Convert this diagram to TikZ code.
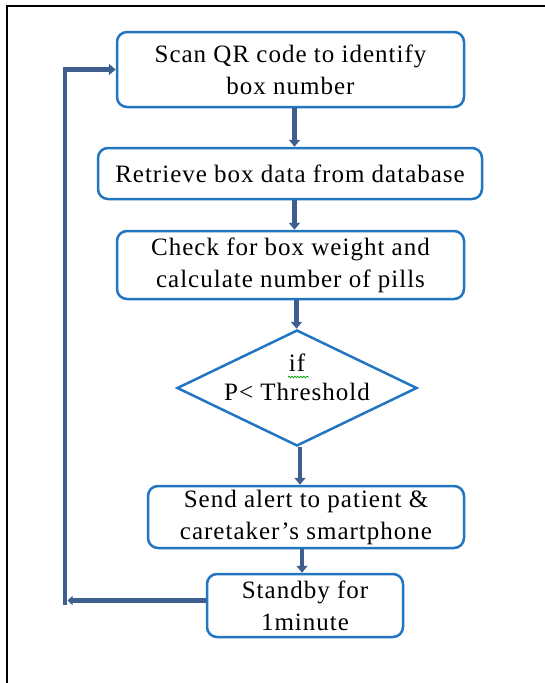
\documentclass[tikz,border=0pt]{standalone}
\usepackage{fontspec}
\setmainfont{Liberation Serif}[LetterSpace=4]
\usetikzlibrary{shapes.geometric,arrows.meta,decorations.pathmorphing}
\definecolor{boxblue}{RGB}{33,117,193}
\definecolor{flowblue}{RGB}{62,95,142}

\begin{document}
\begin{tikzpicture}[x=1pt,y=-1pt,
	procbox/.style={draw=boxblue,line width=2.5pt,rounded corners=10pt,align=center,inner sep=0pt,font=\fontsize{25}{32}\selectfont},
	decbox/.style={draw=boxblue,line width=2.5pt,diamond,inner sep=0pt},
	flowline/.style={draw=flowblue,line width=4.5pt},
	flow/.style={flowline,-{Triangle[width=11pt,length=7pt]}}]
	\useasboundingbox (0,0) rectangle (544,683);
	% Page frame
	\draw[line width=2pt] (7,690) -- (7,6) -- (550,6);
	% Steps
	\node[procbox,minimum width=347pt,minimum height=75pt] (scan) at (290.5,69.5) {Scan QR code to identify\\box number};
	\node[procbox,minimum width=384pt,minimum height=51pt] (retrieve) at (290,173.5) {Retrieve box data from database};
	\node[procbox,minimum width=347pt,minimum height=68pt] (check) at (290.5,265) {Check for box weight and\\calculate number of pills};
	% Decision
	\node[decbox,minimum width=240pt,minimum height=116pt] (cond) at (297,388) {};
	\node[align=center,font=\fontsize{25}{29}\selectfont] (condtxt) at (297,377) {if\\P< Threshold};
		\draw[green!60!black,line width=0.7pt,decorate,decoration={snake,segment length=3pt,amplitude=0.8pt}] (288,377) -- (309,377);
	\node[procbox,minimum width=316pt,minimum height=62pt] (alert) at (306,517) {Send alert to patient \&\\caretaker’s smartphone};
	\node[procbox,minimum width=196pt,minimum height=63pt] (standby) at (305,605.5) {Standby for\\1minute};
	% Down arrows
	\draw[flow] ([xshift=4pt]scan.south) -- ([xshift=4pt]scan.south |- retrieve.north);
	\draw[flow] ([xshift=4.5pt]retrieve.south) -- ([xshift=4.5pt]retrieve.south |- check.north);
	\draw[flow] ([xshift=6pt]check.south) -- ([xshift=6pt]check.south |- cond.north);
	\draw[flow] ([xshift=3pt]cond.south) -- ([xshift=3pt]cond.south |- alert.north);
	\draw[flow] ([xshift=-4pt]alert.south) -- ([xshift=-4pt]alert.south |- standby.north);
	% Loop back
	\coordinate (loopbot) at (65,605);
	\coordinate (looptop) at (loopbot |- scan.west);
	\draw[flow,-{Triangle[width=9pt,length=5pt]}] ([yshift=5pt]standby.west) -- ([xshift=2.5pt,yshift=5pt]standby.west -| loopbot);
	\draw[flowline] (loopbot) -- ([yshift=-2.2pt]looptop);
	\draw[flow] ([xshift=-2.2pt]looptop) -- (scan.west);
\end{tikzpicture}
\end{document}
